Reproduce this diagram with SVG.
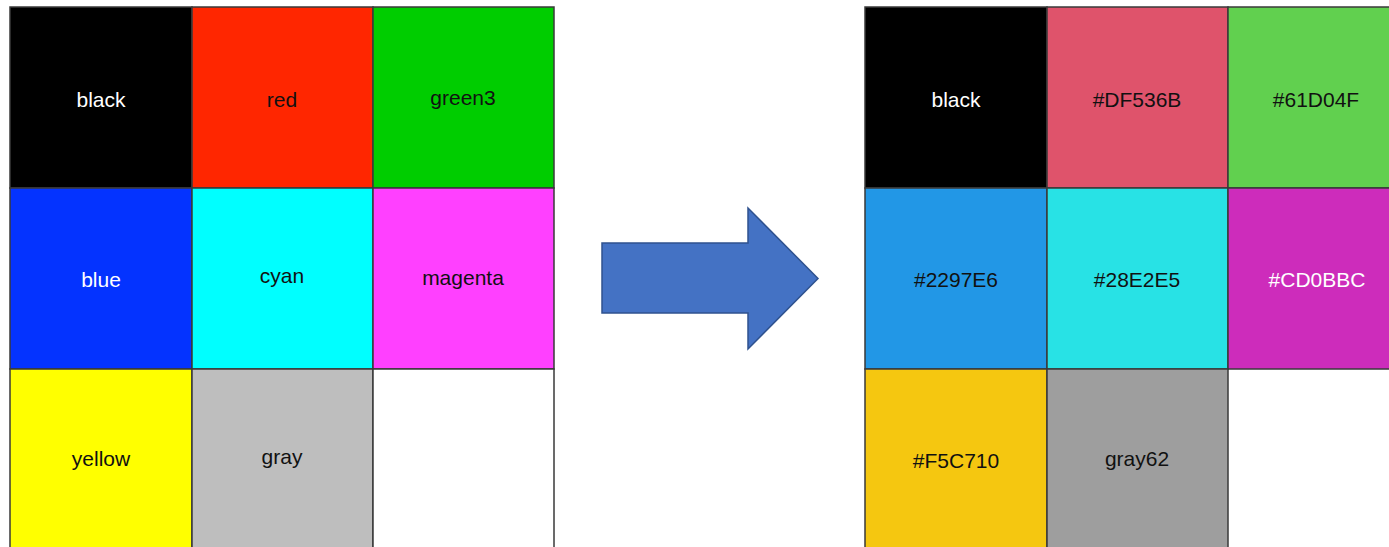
<svg xmlns="http://www.w3.org/2000/svg" width="1389" height="547" viewBox="0 0 1389 547">
<style>
.cell{stroke:#3a3a3a;stroke-width:1.5}
text{font-family:"Liberation Sans",Arial,sans-serif;font-size:21px;text-anchor:middle}
.w{fill:#ffffff}
.k{fill:#111111}
</style>
<rect width="1389" height="547" fill="#ffffff"/>
<g id="left-grid">
<g id="l-black"><rect class="cell" x="10" y="7" width="182" height="181" fill="#000000"/><text class="w" x="101" y="107">black</text></g>
<g id="l-red"><rect class="cell" x="192" y="7" width="181" height="181" fill="#FF2600"/><text class="k" x="282" y="107">red</text></g>
<g id="l-green3"><rect class="cell" x="373" y="7" width="181" height="181" fill="#00CD00"/><text class="k" x="463" y="105">green3</text></g>
<g id="l-blue"><rect class="cell" x="10" y="188" width="182" height="181" fill="#0433FF"/><text class="w" x="101" y="287">blue</text></g>
<g id="l-cyan"><rect class="cell" x="192" y="188" width="181" height="181" fill="#00FFFF"/><text class="k" x="282" y="283">cyan</text></g>
<g id="l-magenta"><rect class="cell" x="373" y="188" width="181" height="181" fill="#FF40FF"/><text class="k" x="463" y="285">magenta</text></g>
<g id="l-yellow"><rect class="cell" x="10" y="369" width="182" height="185" fill="#FFFF00"/><text class="k" x="101" y="466">yellow</text></g>
<g id="l-gray"><rect class="cell" x="192" y="369" width="181" height="185" fill="#BEBEBE"/><text class="k" x="282" y="464">gray</text></g>
<g id="l-empty"><rect class="cell" x="373" y="369" width="181" height="185" fill="#ffffff"/></g>
</g>
<g id="connectors">
<path d="M602,243 L748,243 L748,208 L818,278.5 L748,349 L748,313 L602,313 Z" fill="#4472C4" stroke="#2F528F" stroke-width="1.5" stroke-linejoin="miter"/>
</g>
<g id="right-grid">
<g id="r-black"><rect class="cell" x="865" y="7" width="182" height="181" fill="#000000"/><text class="w" x="956" y="107">black</text></g>
<g id="r-DF536B"><rect class="cell" x="1047" y="7" width="181" height="181" fill="#DF536B"/><text class="k" x="1137" y="107">#DF536B</text></g>
<g id="r-61D04F"><rect class="cell" x="1228" y="7" width="181" height="181" fill="#61D04F"/><text class="k" x="1316" y="107">#61D04F</text></g>
<g id="r-2297E6"><rect class="cell" x="865" y="188" width="182" height="181" fill="#2297E6"/><text class="k" x="956" y="287">#2297E6</text></g>
<g id="r-28E2E5"><rect class="cell" x="1047" y="188" width="181" height="181" fill="#28E2E5"/><text class="k" x="1137" y="287">#28E2E5</text></g>
<g id="r-CD0BBC"><rect class="cell" x="1228" y="188" width="181" height="181" fill="#CD2CBB"/><text class="w" x="1317" y="287">#CD0BBC</text></g>
<g id="r-F5C710"><rect class="cell" x="865" y="369" width="182" height="185" fill="#F5C710"/><text class="k" x="956" y="468">#F5C710</text></g>
<g id="r-gray62"><rect class="cell" x="1047" y="369" width="181" height="185" fill="#9E9E9E"/><text class="k" x="1137" y="466">gray62</text></g>
</g>
</svg>
